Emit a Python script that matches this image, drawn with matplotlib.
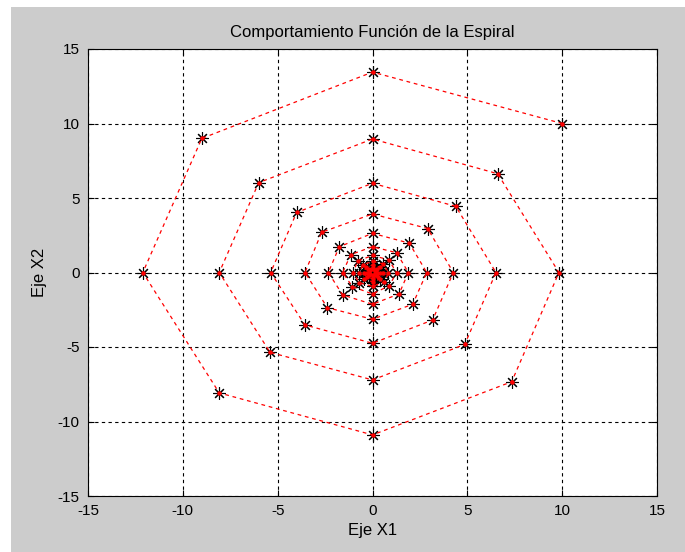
import matplotlib
matplotlib.use("Agg")
import matplotlib.pyplot as plt
from matplotlib.patches import Rectangle

plt.rcParams['font.family'] = ['Liberation Sans', 'DejaVu Sans']
plt.rcParams['axes.unicode_minus'] = False

# Spiral points (outer to inner)
x1 = [10.0, 0.0, -9.0, -12.11, -8.08, 0.0, 7.34, 9.83,
      6.6, 0.0, -6.0, -8.08, -5.4, 0.0, 4.86, 6.51,
      4.39, 0.0, -4.0, -5.37, -3.56, 0.0, 3.17, 4.26,
      2.91, 0.0, -2.68, -3.56, -2.38, 0.0, 2.12, 2.86,
      1.94, 0.0, -1.75, -2.33, -1.57, 0.0, 1.40, 1.89,
      1.27, 0.0, -1.15, -1.57, -1.06, 0.0, 0.89, 1.27,
      0.85, 0.0, -0.77, -1.03, -0.69, 0.0, 0.63, 0.84,
      0.57, 0.0, -0.51, -0.69, -0.46, 0.0, 0.42, 0.56,
      0.37, 0.0, -0.34, -0.46, -0.31, 0.0, 0.28, 0.37,
      0.25, 0.0, -0.22, -0.30, -0.20, 0.0, 0.18, 0.25,
      0.16, 0.0, -0.15, -0.20, -0.13, 0.0, 0.12, 0.16,
      0.11]
x2 = [10.0, 13.45, 9.0, 0.0, -8.08, -10.9, -7.33, 0.0,
      6.63, 8.96, 6.03, 0.0, -5.36, -7.21, -4.83, 0.0,
      4.44, 5.99, 4.03, 0.0, -3.52, -4.75, -3.19, 0.0,
      2.95, 3.93, 2.70, 0.0, -2.36, -3.14, -2.13, 0.0,
      1.97, 2.63, 1.73, 0.0, -1.51, -2.13, -1.44, 0.0,
      1.33, 1.73, 1.20, 0.0, -0.95, -1.44, -0.88, 0.0,
      0.85, 1.15, 0.77, 0.0, -0.69, -0.93, -0.63, 0.0,
      0.57, 0.76, 0.51, 0.0, -0.46, -0.62, -0.42, 0.0,
      0.37, 0.50, 0.34, 0.0, -0.31, -0.41, -0.28, 0.0,
      0.25, 0.33, 0.22, 0.0, -0.20, -0.27, -0.18, 0.0,
      0.16, 0.22, 0.15, 0.0, -0.13, -0.18, -0.12, 0.0,
      0.11]

ticks = [-15, -10, -5, 0, 5, 10, 15]

W, H = 685, 552
fig = plt.figure(figsize=(W / 100, H / 100), dpi=100, facecolor='white')
fig.patches.append(Rectangle((11 / W, 0), 1 - 11 / W, 1 - 7 / H,
                             transform=fig.transFigure, facecolor='#cccccc',
                             edgecolor='none', zorder=-10))

L, R, T, B = 88, 657, 49, 496
ax = fig.add_axes([L / W, 1 - B / H, (R - L) / W, (B - T) / H])
ax.set_facecolor('white')

ax.plot(x1, x2, linestyle='none', marker=(8, 2, 0), color='black',
        markersize=9, markeredgewidth=0.8, zorder=3)
ax.plot(x1, x2, linestyle=(0, (3, 3)), color='red', linewidth=0.9,
        marker='o', markersize=2.2, markerfacecolor='red',
        markeredgecolor='red', zorder=4)

ax.set_xlim(-15, 15)
ax.set_ylim(-15, 15)
ax.set_xticks(ticks)
ax.set_yticks(ticks)
ax.grid(True, color='black', linestyle=(0, (3, 3)), linewidth=0.8)
ax.tick_params(direction='in', top=True, right=True, length=4,
               labelsize=11, pad=6)
for s in ax.spines.values():
    s.set_linewidth(0.8)

ax.set_title('Comportamiento Función de la Espiral', fontsize=12, pad=9)
ax.set_xlabel('Eje X1', fontsize=12, labelpad=3)
ax.set_ylabel('Eje X2', fontsize=12, labelpad=8)

fig.savefig('out.png', dpi=100, facecolor=fig.get_facecolor())
